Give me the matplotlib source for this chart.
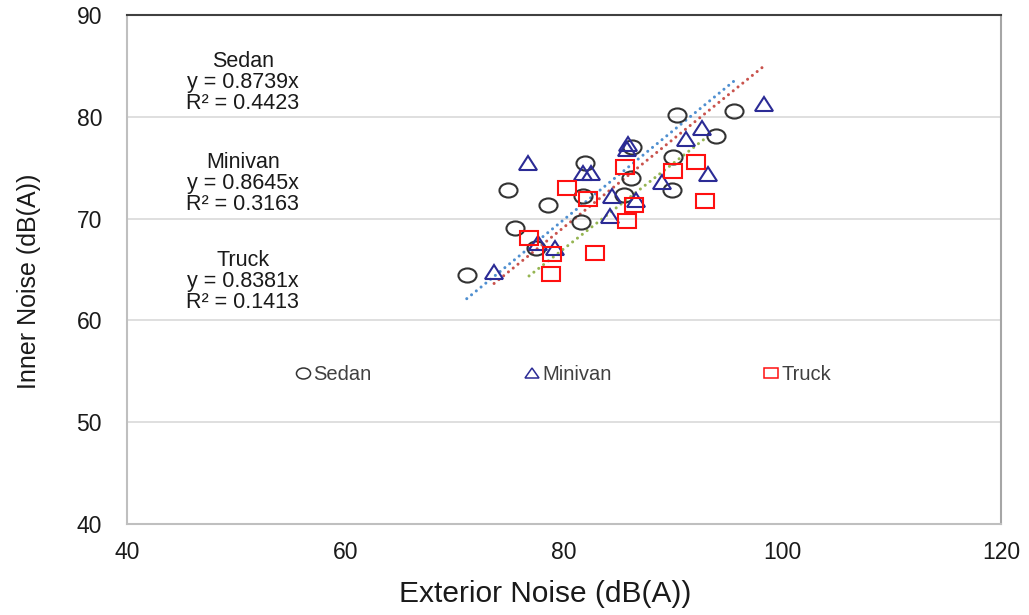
import numpy as np
import matplotlib
matplotlib.use("Agg")
import matplotlib.pyplot as plt
from matplotlib.markers import MarkerStyle
from matplotlib.transforms import Affine2D
from matplotlib.lines import Line2D

plt.rcParams['font.family'] = ['Liberation Sans', 'DejaVu Sans']

# data
sedan_x = [71.1, 74.9, 75.5, 77.4, 78.5, 81.6, 81.7, 81.9, 85.5, 86.1, 86.2, 89.9, 90.0, 90.3, 93.9, 95.6]
sedan_y = [64.5, 72.8, 69.1, 67.1, 71.3, 69.7, 72.2, 75.5, 72.3, 74.0, 77.0, 72.8, 76.1, 80.2, 78.1, 80.6]

minivan_x = [73.6, 76.7, 77.6, 79.2, 81.7, 82.5, 84.2, 84.4, 85.8, 85.9, 86.6, 89.0, 91.2, 92.6, 93.2, 98.3]
minivan_y = [64.8, 75.5, 67.6, 67.1, 74.5, 74.5, 70.3, 72.2, 76.8, 77.3, 71.8, 73.6, 77.8, 78.9, 74.4, 81.3]

truck_x = [76.8, 78.8, 78.9, 80.3, 82.2, 82.8, 85.6, 85.8, 86.4, 90.0, 92.1, 92.9]
truck_y = [68.1, 64.6, 66.5, 73.0, 71.9, 66.6, 75.1, 69.8, 71.3, 74.7, 75.6, 71.7]

names = ['Sedan', 'Minivan', 'Truck']
slopes = [0.8739, 0.8645, 0.8381]
r2 = [0.4423, 0.3163, 0.1413]

# styling
squash = Affine2D().scale(1.0, 0.78)
mk_circle = MarkerStyle('o', fillstyle='none', transform=squash)
mk_tri = MarkerStyle('^', fillstyle='none', transform=squash)
mk_sq = MarkerStyle('s', fillstyle='none', transform=squash)

fig = plt.figure(figsize=(10.29, 6.15), dpi=100)
ax = fig.add_axes([127 / 1029, 1 - 524 / 615, (1001 - 127) / 1029, (524 - 15) / 615])

ms = 13
ax.plot(sedan_x, sedan_y, linestyle='none', marker=mk_circle, ms=ms, mew=1.5,
        mec='#333333', zorder=3)
ax.plot(minivan_x, minivan_y, linestyle='none', marker=mk_tri, ms=ms, mew=1.5,
        mec='#2b2b95', zorder=3)
ax.plot(truck_x, truck_y, linestyle='none', marker=mk_sq, ms=ms, mew=1.5,
        mec='#ff1010', zorder=3)

# trendlines through origin (dotted)
trend_cols = ['#4f8fd0', '#c9534d', '#95b552']
for xs, k, c in zip([sedan_x, minivan_x, truck_x], slopes, trend_cols):
    tx = np.array([min(xs), max(xs)])
    ax.plot(tx, k * tx, color=c, lw=2.2, linestyle=(0, (0.01, 2.0)),
            dash_capstyle='round', zorder=2)

# equation annotations
ann_y = [83.4, 73.4, 63.8]
for n, k, r, yy in zip(names, slopes, r2, ann_y):
    ax.text(50.6, yy, f"{n}\ny = {k:.4f}x\nR² = {r:.4f}", ha='center', va='center',
            multialignment='center', fontsize=15.5, color='#1a1a1a', linespacing=1.0)

# legend row
handles = [
    Line2D([], [], linestyle='none', marker=mk_circle, ms=ms, mew=1.1, mec='#333333'),
    Line2D([], [], linestyle='none', marker=mk_tri, ms=ms, mew=1.1, mec='#2b2b95'),
    Line2D([], [], linestyle='none', marker=mk_sq, ms=ms, mew=1.1, mec='#ff1010'),
]
leg = ax.legend(handles, names, ncol=3, loc='center left',
                bbox_to_anchor=(55.5, 54.7), bbox_transform=ax.transData,
                frameon=False, fontsize=14.5, markerscale=0.78, handlelength=0.7,
                handletextpad=0.15, columnspacing=7.6, borderpad=0, borderaxespad=0)
for t in leg.get_texts():
    t.set_color('#404040')

ax.set_xlim(40, 120)
ax.set_ylim(40, 90)
ax.set_xticks([40, 60, 80, 100, 120])
ax.set_yticks([40, 50, 60, 70, 80, 90])
ax.tick_params(length=0, labelsize=16.5, labelcolor='#1a1a1a')
ax.tick_params(axis='y', pad=18)
ax.tick_params(axis='x', pad=12)
ax.yaxis.grid(True, color='#d9d9d9', lw=1.2)
ax.set_axisbelow(True)

for side, col, lw in [('left', '#bfbfbf', 1.5), ('bottom', '#bfbfbf', 1.5),
                      ('top', '#404040', 1.5), ('right', '#a6a6a6', 1.5)]:
    ax.spines[side].set_color(col)
    ax.spines[side].set_linewidth(lw)

ax.set_xlabel('Exterior Noise (dB(A))', fontsize=21.5, color='#1a1a1a')
ax.set_ylabel('Inner Noise (dB(A))', fontsize=18, color='#1a1a1a')
ax.xaxis.set_label_coords(0.478, -0.11)
ax.yaxis.set_label_coords(-0.098, 0.477)

fig.savefig('out.png', dpi=100)
